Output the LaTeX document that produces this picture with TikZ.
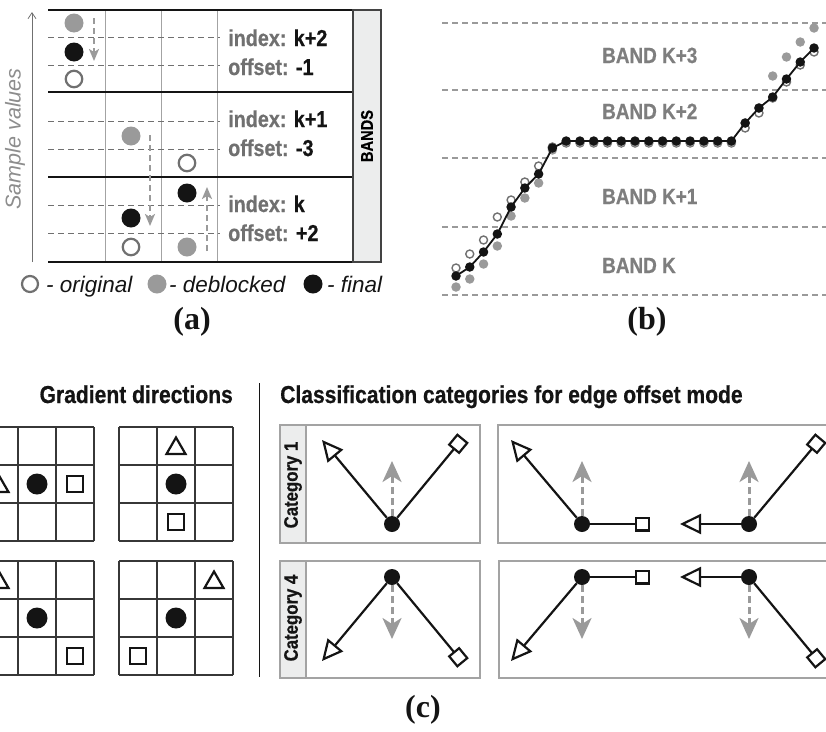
\documentclass[tikz,border=0pt]{standalone}
\usepackage{fontspec}
\setmainfont{Liberation Serif}
\setsansfont{Liberation Sans}
\newfontfamily\condsans{Liberation Sans Bold}[FakeStretch=0.86, FakeBold=0.6]
\usepackage{tikz}
\usetikzlibrary{arrows.meta, shapes.geometric}
\definecolor{figblack}{HTML}{141414}
\definecolor{deblgray}{HTML}{9A9A9A}
\definecolor{labelgray}{HTML}{707070}
\definecolor{rulegray}{HTML}{A3A3A3}
\definecolor{stripgray}{HTML}{ECEDED}
\newcommand{\pxfont}[1]{\fontsize{#1}{#1}\selectfont}

\begin{document}
\begin{tikzpicture}[x=1pt, y=-1pt,
    orig/.style={circle, draw=labelgray, line width=2.2pt, fill=white, minimum size=16.5pt, inner sep=0pt},
    debl/.style={circle, fill=deblgray, minimum size=19pt, inner sep=0pt},
    fin/.style={circle, fill=figblack, minimum size=19pt, inner sep=0pt},
    tiny/.style={minimum size=9.5pt},
    tinyo/.style={minimum size=8pt, line width=1.4pt},
    level/.style={labelgray, line width=0.9pt, dash pattern=on 6pt off 4pt},
    bandrule/.style={figblack, line width=2.6pt},
    colrule/.style={rulegray, line width=1pt},
    shiftarr/.style={deblgray, line width=2pt, dash pattern=on 6pt off 4pt,
        -{Stealth[length=12pt, width=10pt, inset=3pt]}},
    axis/.style={labelgray, line width=0.8pt, -{Straight Barb[length=6pt, width=8pt]}},
    idx/.style={anchor=base west, inner sep=0pt, font=\condsans\pxfont{23}, text=labelgray},
    bandlbl/.style={anchor=base west, inner sep=0pt, font=\condsans\pxfont{22}, text=labelgray!90},
    legtext/.style={anchor=base west, inner sep=0pt, font=\sffamily\itshape\pxfont{22.5}, text=figblack},
    caption/.style={font=\bfseries\pxfont{32}, text=figblack},
    head/.style={inner sep=0pt, font=\condsans\pxfont{24.5}, text=figblack},
    catlbl/.style={rotate=90, inner sep=0pt, font=\condsans\pxfont{19.5}, text=figblack},
    catframe/.style={draw=rulegray, line width=1.2pt},
    cellrule/.style={figblack!85, line width=1.3pt},
    gdot/.style={circle, fill=figblack, minimum size=21pt, inner sep=0pt},
    gsq/.style={rectangle, draw=figblack, line width=2.2pt, fill=white, minimum size=16pt, inner sep=0pt},
    gtri/.style={regular polygon, regular polygon sides=3, draw=figblack, line width=2.2pt,
        fill=white, minimum size=22pt, inner sep=0pt},
    edot/.style={circle, fill=figblack, minimum size=16pt, inner sep=0pt},
    toneg/.style={figblack, line width=2.2pt, -{Triangle[open, length=21pt, width=20pt]}},
    topos/.style={figblack, line width=2.2pt, -{Square[open, length=15pt, width=15pt]}},
    gradarr/.style={deblgray, line width=3pt, dash pattern=on 7pt off 4pt,
        -{Stealth[length=21pt, width=19pt, inset=6pt]}},
]
\useasboundingbox (0,0) rectangle (826,731);
\clip (0,0) rectangle (826,731);

% ===== Panel (a): bands and offsets =====
\foreach \cx in {105,161,217}
  \draw[colrule] (\cx,10) -- (\cx,263);
\foreach \ly in {37,65,121,149,205,233}
  \draw[level] (48,\ly) -- (220,\ly);
\foreach \by in {10,92,177,262}
  \draw[bandrule] (48,\by) -- (353,\by);
\node[draw=figblack!80, fill=stripgray, line width=1.2pt, rotate=90, minimum width=252pt,
  minimum height=28pt, inner sep=0pt, font=\condsans\pxfont{17}] (bands) at (367,136) {BANDS};

% axis
\coordinate (axlo) at (32,262);
\coordinate (axhi) at (32,12);
\draw[axis] (axlo) -- (axhi);
\node[rotate=90, font=\sffamily\itshape\pxfont{21.5}, text=labelgray!80] (axlbl) at (15,139) {Sample values};

% samples
\node[debl] (d1) at (74,23) {};
\node[fin] (f1) at (74,52) {};
\node[orig] (o1) at (74,79) {};
\node[debl] (d2) at (131,136) {};
\node[fin] (f2) at (131,218) {};
\node[orig] (o2) at (131,247) {};
\node[orig] (o3) at (187,163) {};
\node[fin] (f3) at (187,193) {};
\node[debl] (d3) at (187,247) {};

\coordinate (s1a) at (94,18);  \coordinate (s1b) at (94,61);
\coordinate (s2a) at (150,135); \coordinate (s2b) at (150,226);
\coordinate (s3a) at (207,251); \coordinate (s3b) at (207,187);
\draw[shiftarr] (s1a) -- (s1b);
\draw[shiftarr] (s2a) -- (s2b);
\draw[shiftarr] (s3a) -- (s3b);

% band index / offset
\node[idx] (idx2) at (228,46) {index: \textcolor{figblack}{k+2}};
\node[idx] (off2) at (228,75) {offset: \textcolor{figblack}{-1}};
\node[idx] (idx1) at (228,127) {index: \textcolor{figblack}{k+1}};
\node[idx] (off1) at (228,156) {offset: \textcolor{figblack}{-3}};
\node[idx] (idx0) at (228,212) {index: \textcolor{figblack}{k}};
\node[idx] (off0) at (228,241) {offset: \textcolor{figblack}{+2}};

% legend
\node[orig, minimum size=16pt] (lgo) at (30,284) {};
\node[legtext] (lgot) at (46,292) {- original};
\node[debl] (lgd) at (157,284) {};
\node[legtext] (lgdt) at (169,292) {- deblocked};
\node[fin] (lgf) at (313,284) {};
\node[legtext] (lgft) at (327,292) {- final};

\node[caption] (capa) at (192,322) {(a)};

% ===== Panel (b): sample curve over bands =====
\foreach \ly in {23,90,158,227,295}
  \draw[level, deblgray, line width=1.3pt] (442,\ly) -- (826,\ly);

\node[bandlbl] (bk3) at (602,63) {BAND K+3};
\node[bandlbl] (bk2) at (602,119) {BAND K+2};
\node[bandlbl] (bk1) at (602,204) {BAND K+1};
\node[bandlbl] (bk0) at (602,273) {BAND K};

\foreach \yv [count=\i from 0] in {268,254,240,217,200,182,166,147,
    143,143,143,143,143,143,143,143,143,143,143,143,143,128,113,98,82,65,52}
  \node[orig, tinyo] (bo\i) at ({456+13.77*\i},\yv) {};
\foreach \yv [count=\i from 0] in {287,279,264,246,216,198,183,150,
    142,142,142,142,142,142,142,142,142,142,142,142,142,123,108,76,57,42,28}
  \node[debl, tiny] (bd\i) at ({456+13.77*\i},\yv) {};
\foreach \yv [count=\i from 0] in {276,267,252,234,207,188,174,148,
    141,141,141,141,141,141,141,141,141,141,141,141,141,123,108,97,79,62,48}
  \node[fin, tiny] (bf\i) at ({456+13.77*\i},\yv) {};
\foreach \i [remember=\i as \j (initially 0)] in {1,...,26}
  \draw[figblack, line width=1.8pt] (bf\j.center) -- (bf\i.center);

\node[caption] (capb) at (647,322) {(b)};

% ===== Panel (c): gradient directions =====
\node[head, anchor=base east] (gradhd) at (233,403) {Gradient directions};
\foreach \gx/\gy in {-20/427, 119/427, -20/561, 119/561}
  \foreach \k in {0,...,3} {
    \draw[cellrule] (\gx+38*\k,\gy) -- (\gx+38*\k,\gy+114);
    \draw[cellrule] (\gx,\gy+38*\k) -- (\gx+114,\gy+38*\k);
  }

\node[gtri] (ga) at (-1,486.5) {};
\node[gdot] (gb) at (37,484) {};
\node[gsq] (gc) at (75,484) {};
\node[gtri] (ha) at (176,448.5) {};
\node[gdot] (hb) at (176,484) {};
\node[gsq] (hc) at (176,522) {};
\node[gtri] (ia) at (-1,582.5) {};
\node[gdot] (ib) at (37,618) {};
\node[gsq] (ic) at (75,656) {};
\node[gtri] (ja) at (214,582.5) {};
\node[gdot] (jb) at (176,618) {};
\node[gsq] (jc) at (138,656) {};

\coordinate (sepTop) at (259,383);
\coordinate (sepBot) at (259,677);
\draw[figblack, line width=1pt] (sepTop) -- (sepBot);

% ===== Panel (c): edge offset categories =====
\node[head, anchor=base west] (classhd) at (280,403) {Classification categories for edge offset mode};

\draw[catframe] (280,425) rectangle (480,543);
\draw[catframe, fill=stripgray] (280,425) rectangle (306,543);
\node[catlbl] (cat1) at (293,485) {Category 1};
\draw[catframe] (498,425) rectangle (840,543);
\draw[catframe] (280,561) rectangle (480,678);
\draw[catframe, fill=stripgray] (280,561) rectangle (306,678);
\node[catlbl] (cat4) at (293,618) {Category 4};
\draw[catframe] (499,561) rectangle (840,678);

% category 1: local minimum
\node[edot] (a1) at (392,524) {};
\coordinate (a1n) at (322,440); \coordinate (a1p) at (463,438); \coordinate (a1g) at (392,461);
\draw[toneg] (a1) -- (a1n);
\draw[topos] (a1) -- (a1p);
\draw[gradarr] (a1) -- (a1g);

% category 2: edges
\node[edot] (b1) at (582,524) {};
\coordinate (b1n) at (511,440); \coordinate (b1p) at (650,524); \coordinate (b1g) at (582,461);
\draw[toneg] (b1) -- (b1n);
\draw[topos] (b1) -- (b1p);
\draw[gradarr] (b1) -- (b1g);

\node[edot] (b2) at (749,524) {};
\coordinate (b2n) at (680,524); \coordinate (b2p) at (821,438); \coordinate (b2g) at (749,461);
\draw[toneg] (b2) -- (b2n);
\draw[topos] (b2) -- (b2p);
\draw[gradarr] (b2) -- (b2g);

% category 4: local maximum
\node[edot] (c1) at (392,577) {};
\coordinate (c1n) at (322,661); \coordinate (c1p) at (463,663); \coordinate (c1g) at (392,639);
\draw[toneg] (c1) -- (c1n);
\draw[topos] (c1) -- (c1p);
\draw[gradarr] (c1) -- (c1g);

% category 3: edges
\node[edot] (e1) at (582,577) {};
\coordinate (e1n) at (511,661); \coordinate (e1p) at (650,577); \coordinate (e1g) at (582,639);
\draw[toneg] (e1) -- (e1n);
\draw[topos] (e1) -- (e1p);
\draw[gradarr] (e1) -- (e1g);

\node[edot] (e2) at (749,577) {};
\coordinate (e2n) at (680,577); \coordinate (e2p) at (821,664); \coordinate (e2g) at (749,639);
\draw[toneg] (e2) -- (e2n);
\draw[topos] (e2) -- (e2p);
\draw[gradarr] (e2) -- (e2g);

\node[caption] (capc) at (423,710) {(c)};

\end{tikzpicture}
\end{document}
